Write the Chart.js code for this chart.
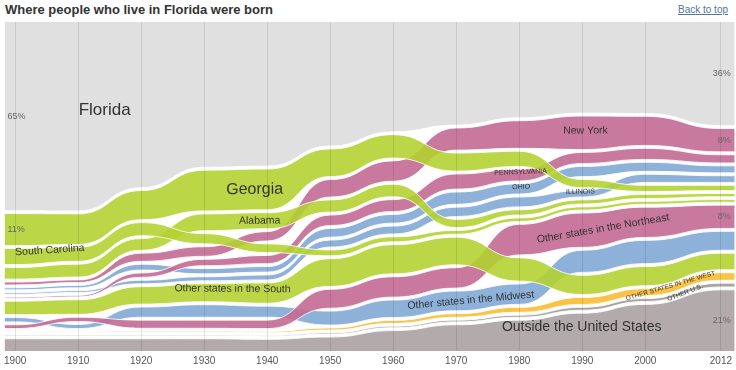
<!DOCTYPE html>
<html>
<head>
<meta charset="utf-8">
<script src="https://cdn.jsdelivr.net/npm/chart.js@4.4.1/dist/chart.umd.min.js"></script>
<style>
  body { margin: 0; background: #fff; }
  .head { position: relative; width: 736px; height: 20px; }
  .head h1 { position: absolute; left: 5px; top: 2px; margin: 0; font: bold 13px "Liberation Sans", Arial, sans-serif; color: #333; }
  .head a { position: absolute; right: 8px; top: 4px; font: 10px "Liberation Sans", Arial, sans-serif; color: #52739a; }
  canvas { display: block; }
</style>
</head>
<body>
<div class="head"><h1>Where people who live in Florida were born</h1><a href="#">Back to top</a></div>
<canvas id="chart" width="736" height="352"></canvas>
<script>
// census years and share of Florida residents (%) by birthplace
const years = [1900, 1910, 1920, 1930, 1940, 1950, 1960, 1970, 1980, 1990, 2000, 2012];
const xRange = [1898.3, 2014.2];

const florida        = [65, 64.5, 57, 50, 49.5, 42.5, 37.8, 35.5, 32.5, 31, 31.5, 36];
const georgia        = [11, 10.5, 10, 14, 14, 9.5, 8, 6.2, 5.2, 2.8, 2.1, 1.8];
const southCarolina  = [5.5, 4.8, 4.5, 3.5, 3, 2, 1.7, 1.3, 1.2, 1.1, 1.0, 0.9];
const alabama        = [4, 4.4, 4, 5.8, 5.5, 4.2, 4.3, 2.8, 1.8, 1.4, 1.4, 1.1];
const newYork        = [1, 0.9, 2.8, 3.3, 3.2, 6, 7, 7.6, 9.5, 11.5, 10, 8];
const pennsylvania   = [0.4, 0.5, 1.5, 2.2, 2.8, 3.6, 4.1, 5.2, 4.0, 3.8, 3.8, 2.8];
const ohio           = [0.7, 0.8, 2, 1.8, 1.9, 3, 3.0, 4.2, 3.5, 3.5, 3.1, 2.4];
const illinois       = [0.5, 0.6, 1.2, 1.4, 1.7, 2.4, 2.7, 3.2, 3.4, 2.2, 2.8, 2.3];
const otherSouth     = [4.6, 5, 6, 6.2, 7, 9.5, 10, 9.5, 8, 6.6, 6.6, 5.7];
const otherNortheast = [1.3, 1.5, 2.8, 2.8, 2.9, 6.5, 7, 7, 10.5, 11.8, 10.4, 8];
const otherMidwest   = [1.5, 1.4, 3.5, 4.3, 3.8, 4.8, 6, 6.8, 7, 7.6, 8, 6.5];
const otherWest      = [0.2, 0.2, 0.3, 0.3, 0.4, 0.7, 1, 1.2, 1.7, 2.4, 2.4, 2.6];
const otherUS        = [0.3, 0.3, 0.3, 0.3, 0.3, 0.4, 0.5, 0.6, 0.7, 1, 1, 1.3];
const outside        = [4.2, 4.2, 4.2, 4.2, 4, 4.8, 7, 9, 10.6, 13, 16, 21];

const gap = 1;               // white space between streams, in % units
const yMax = 100 + gap * 13;
const k = 0.5;               // how flat the streams are at each census year

const green = 'rgba(180, 210, 50, 0.9)';
const pink = 'rgba(196, 106, 148, 0.9)';
const blue = 'rgba(130, 168, 214, 0.9)';
const yellow = 'rgba(248, 192, 60, 0.95)';
const edge = 'rgba(255, 255, 255, 0.85)';
const font = '"Liberation Sans", Arial, sans-serif';

const band = (name, values, color) => ({ name, values, color, lo: [], hi: [] });

const floridaBand = band('Florida', florida, '#e0e0e0');
const stateBands = [
  band('Georgia', georgia, green),
  band('South Carolina', southCarolina, green),
  band('Alabama', alabama, green),
  band('New York', newYork, pink),
  band('Pennsylvania', pennsylvania, pink),
  band('Ohio', ohio, blue),
  band('Illinois', illinois, blue)
];
const otherBands = [
  band('Other South', otherSouth, green),
  band('Other Northeast', otherNortheast, pink),
  band('Other Midwest', otherMidwest, blue),
  band('Other West', otherWest, yellow)
];
const usBand = band('Other U.S.', otherUS, 'rgba(165, 158, 158, 0.95)');
const outsideBand = band('Outside', outside, '#b3abab');

// stack each year: states by size, then the regional groups by size
years.forEach((yr, i) => {
  const bySize = (a, b) => b.values[i] - a.values[i];
  const order = [floridaBand, ...stateBands.slice().sort(bySize), ...otherBands.slice().sort(bySize), usBand, outsideBand];
  let y = 0;
  for (let j = order.length - 1; j >= 0; j--) {
    const b = order[j];
    b.lo[i] = y;
    y += b.values[i];
    b.hi[i] = y;
    y += gap;
  }
});
floridaBand.hi = years.map(() => yMax);

const toPoints = arr => [
  { x: xRange[0], y: arr[0] },
  ...years.map((yr, i) => ({ x: yr, y: arr[i] })),
  { x: xRange[1], y: arr[arr.length - 1] }
];

const allBands = [...stateBands, ...otherBands, usBand, outsideBand, floridaBand];
const datasets = [];
allBands.forEach(b => {
  datasets.push({ data: toPoints(b.lo), fill: false, borderColor: edge, borderWidth: b === outsideBand ? 0 : 1 });
  datasets.push({ data: toPoints(b.hi), fill: '-1', backgroundColor: b.color, borderColor: edge, borderWidth: b === floridaBand ? 0 : 1 });
});

// same curve as the plugin below draws, used to place the labels
function curveAt(arr, year) {
  const xs = [xRange[0], ...years, xRange[1]];
  const vs = [arr[0], ...arr, arr[arr.length - 1]];
  let s = 0;
  while (s < xs.length - 2 && year > xs[s + 1]) s++;
  const a = xs[s], b = xs[s + 1], d = b - a;
  const c1 = a + k * d, c2 = b - k * d;
  let t0 = 0, t1 = 1;
  for (let n = 0; n < 30; n++) {
    const t = (t0 + t1) / 2, u = 1 - t;
    const x = u * u * u * a + 3 * u * u * t * c1 + 3 * u * t * t * c2 + t * t * t * b;
    if (x < year) t0 = t; else t1 = t;
  }
  const t = (t0 + t1) / 2;
  return vs[s] + (vs[s + 1] - vs[s]) * (3 * t * t - 2 * t * t * t);
}

const find = name => allBands.find(b => b.name === name);
const nameLabels = [
  { text: 'Florida', band: 'Florida', year: 1914.2, size: 17, dy: -2, flat: true },
  { text: 'Georgia', band: 'Georgia', year: 1938, size: 16 },
  { text: 'Alabama', band: 'Alabama', year: 1938.8, size: 10.5 },
  { text: 'South Carolina', band: 'South Carolina', year: 1905.5, size: 10.5, dy: -5 },
  { text: 'Other states in the South', band: 'Other South', year: 1934.5, size: 10.5, dy: -4 },
  { text: 'New York', band: 'New York', year: 1990.5, size: 10.5, dy: -2 },
  { text: 'PENNSYLVANIA', band: 'Pennsylvania', year: 1980.2, size: 7, dy: -3 },
  { text: 'OHIO', band: 'Ohio', year: 1980.3, size: 7, dy: -2 },
  { text: 'ILLINOIS', band: 'Illinois', year: 1989.7, size: 7, dy: -2 },
  { text: 'Other states in the Northeast', band: 'Other Northeast', year: 1993.3, size: 10.5 },
  { text: 'Other states in the Midwest', band: 'Other Midwest', year: 1972.3, size: 10.5 },
  { text: 'OTHER STATES IN THE WEST', band: 'Other West', year: 2004, size: 6.5, dy: -3 },
  { text: 'OTHER U.S.', band: 'Other U.S.', year: 2006.3, size: 6.5, dy: 1 },
  { text: 'Outside the United States', band: 'Outside', year: 1989.9, size: 14, dy: -5, flat: true }
];
const pctLabels = [
  { band: 'Florida', side: 'left' },
  { band: 'Georgia', side: 'left' },
  { band: 'Florida', side: 'right' },
  { band: 'New York', side: 'right' },
  { band: 'Other Northeast', side: 'right' },
  { band: 'Outside', side: 'right' }
];

const flatTangents = {
  id: 'flatTangents',
  afterDatasetsUpdate(chart) {
    chart.getSortedVisibleDatasetMetas().forEach(meta => {
      meta.dataset.updateControlPoints(chart.chartArea, 'x');
      const pts = meta.data;
      pts.forEach((p, i) => {
        const prev = pts[i - 1], next = pts[i + 1];
        p.cp1x = prev ? p.x - (p.x - prev.x) * k : p.x;
        p.cp1y = p.y;
        p.cp2x = next ? p.x + (next.x - p.x) * k : p.x;
        p.cp2y = p.y;
      });
    });
  }
};

const streamLabels = {
  id: 'streamLabels',
  afterDraw(chart) {
    const { ctx, chartArea, scales: { x, y } } = chart;
    const mid = (b, yr) => y.getPixelForValue((curveAt(b.lo, yr) + curveAt(b.hi, yr)) / 2);
    ctx.save();
    ctx.textBaseline = 'middle';
    ctx.textAlign = 'center';
    ctx.fillStyle = '#333';
    nameLabels.forEach(l => {
      const b = find(l.band);
      const px = x.getPixelForValue(l.year);
      const py = mid(b, l.year) + (l.dy || 0);
      const ang = l.flat ? 0 : Math.atan2(mid(b, l.year + 1) - mid(b, l.year - 1), x.getPixelForValue(l.year + 1) - x.getPixelForValue(l.year - 1));
      ctx.save();
      ctx.translate(px, py);
      ctx.rotate(ang);
      ctx.font = l.size + 'px ' + font;
      ctx.fillText(l.text, 0, 0);
      ctx.restore();
    });
    ctx.fillStyle = '#666';
    ctx.font = '9px ' + font;
    pctLabels.forEach(l => {
      const b = find(l.band);
      const i = l.side === 'left' ? 0 : years.length - 1;
      const py = y.getPixelForValue((b.lo[i] + b.hi[i]) / 2);
      ctx.textAlign = l.side;
      const px = l.side === 'left' ? chartArea.left + 3 : chartArea.right - 4;
      ctx.fillText(Math.round(b.values[i]) + '%', px, py);
    });
    ctx.restore();
  }
};

new Chart(document.getElementById('chart'), {
  type: 'line',
  data: { datasets },
  options: {
    responsive: false,
    animation: false,
    events: [],
    layout: { padding: { left: 3, right: 0, top: 2, bottom: 1 } },
    elements: {
      point: { radius: 0 },
      line: { tension: 0.4 }
    },
    plugins: { legend: { display: false }, tooltip: { enabled: false } },
    scales: {
      x: {
        type: 'linear',
        min: xRange[0],
        max: xRange[1],
        afterBuildTicks: scale => { scale.ticks = years.map(v => ({ value: v })); },
        ticks: { padding: 4, color: '#555', font: { size: 10, family: font }, callback: v => String(v), maxRotation: 0, autoSkip: false },
        grid: { color: 'rgba(0,0,0,0.1)', drawTicks: false, z: 1 },
        border: { display: false }
      },
      y: { display: false, min: 0, max: yMax }
    }
  },
  plugins: [flatTangents, streamLabels]
});
</script>
</body>
</html>
